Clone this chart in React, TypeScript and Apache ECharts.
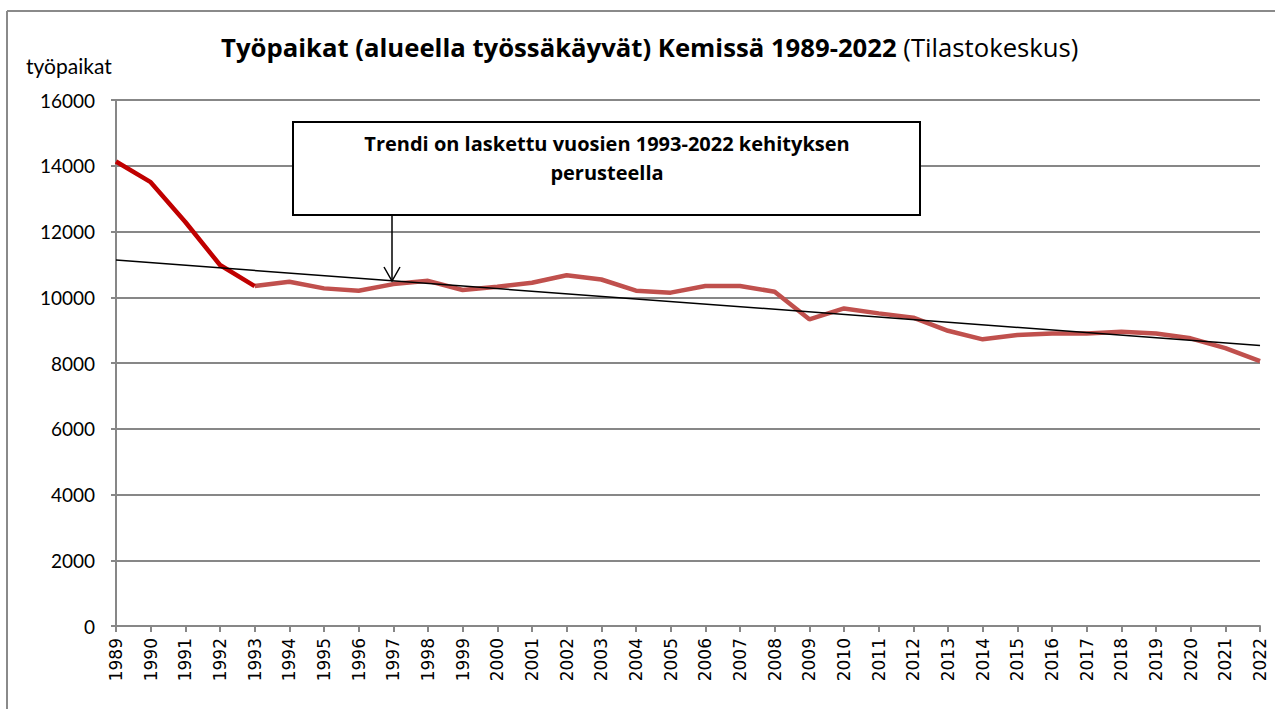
import React, { useEffect, useRef } from "react";
import * as echarts from "echarts";

const years: string[] = [
  "1989", "1990", "1991", "1992", "1993", "1994", "1995", "1996", "1997", "1998",
  "1999", "2000", "2001", "2002", "2003", "2004", "2005", "2006", "2007", "2008",
  "2009", "2010", "2011", "2012", "2013", "2014", "2015", "2016", "2017", "2018",
  "2019", "2020", "2021", "2022",
];

// 1989–1993 (dark red segment)
const earlyValues: number[] = [14130, 13500, 12290, 10980, 10340];

// 1993–2022 (lighter red segment)
const laterValues: number[] = [
  10340, 10470, 10270, 10200, 10400, 10500, 10220, 10320, 10440, 10670,
  10540, 10200, 10140, 10340, 10340, 10170, 9330, 9660, 9510, 9380,
  8980, 8720, 8850, 8900, 8900, 8950, 8900, 8750, 8450, 8060,
];

// trend line end values (1989 and 2022)
const trendEnds: number[] = [11130, 8530];

const yTicks = { min: 0, max: 16000, interval: 2000 };

const titleBold = "Työpaikat (alueella työssäkäyvät) Kemissä 1989-2022";
const titleNormal = " (Tilastokeskus)";
const yName = "työpaikat";
const noteText = "Trendi on laskettu vuosien 1993-2022 kehityksen\nperusteella";

export default function App() {
  const ref = useRef<HTMLDivElement>(null);

  useEffect(() => {
    if (!ref.current) return;
    const chart = echarts.init(ref.current, undefined, { renderer: "svg" });

    const earlyData = years.map((_, i) => (i < earlyValues.length ? earlyValues[i] : null));
    const offset = years.length - laterValues.length;
    const laterData = years.map((_, i) => (i >= offset ? laterValues[i - offset] : null));
    const trendData = years.map((_, i) =>
      i === 0 ? trendEnds[0] : i === years.length - 1 ? trendEnds[1] : null
    );

    const gray = "#878787";

    chart.setOption({
      animation: false,
      backgroundColor: "#ffffff",
      title: {
        text: "{b|" + titleBold + "}{n|" + titleNormal + "}",
        left: 216,
        top: 29,
        textStyle: {
          rich: {
            b: { fontFamily: "Open Sans", fontWeight: "bold", fontSize: 25.7, color: "#000" },
            n: { fontFamily: "Open Sans", fontWeight: "normal", fontSize: 25.7, color: "#000" },
          },
        },
      },
      grid: { left: 116, right: 15, top: 100, bottom: 83, containLabel: false },
      xAxis: {
        type: "category",
        data: years,
        boundaryGap: false,
        axisLine: { show: true, lineStyle: { color: gray, width: 2 } },
        axisTick: { show: true, length: 6, interval: 0, lineStyle: { color: gray, width: 2 } },
        axisLabel: {
          interval: 0,
          rotate: 90,
          margin: 12,
          fontFamily: "DejaVu Sans",
          fontSize: 17,
          color: "#000",
        },
        splitLine: { show: false },
      },
      yAxis: {
        type: "value",
        min: yTicks.min,
        max: yTicks.max,
        interval: yTicks.interval,
        axisLine: { show: true, lineStyle: { color: gray, width: 2 } },
        axisTick: { show: true, length: 5, lineStyle: { color: gray, width: 2 } },
        axisLabel: {
          margin: 21,
          fontFamily: "Lato",
          fontSize: 19,
          color: "#000",
          formatter: (v: number) => String(v),
        },
        splitLine: { show: true, lineStyle: { color: gray, width: 2 } },
      },
      series: [
        {
          type: "line",
          data: laterData,
          showSymbol: false,
          symbol: "none",
          lineStyle: { color: "#C0504D", width: 4.5 },
          z: 2,
        },
        {
          type: "line",
          data: earlyData,
          showSymbol: false,
          symbol: "none",
          lineStyle: { color: "#C00000", width: 4.5 },
          z: 3,
        },
        {
          type: "line",
          data: trendData,
          connectNulls: true,
          showSymbol: false,
          symbol: "none",
          lineStyle: { color: "#000000", width: 1.5 },
          z: 4,
        },
      ],
      graphic: [
        {
          type: "line",
          shape: { x1: 7, y1: 11, x2: 1275, y2: 11 },
          style: { stroke: "#8a8a8a", lineWidth: 2 },
        },
        {
          type: "line",
          shape: { x1: 7, y1: 11, x2: 7, y2: 709 },
          style: { stroke: "#8a8a8a", lineWidth: 2 },
        },
        {
          type: "text",
          left: 26,
          top: 55,
          style: { text: yName, fontFamily: "Lato", fontSize: 21, fill: "#000" },
        },
        {
          type: "rect",
          shape: { x: 293, y: 122, width: 627, height: 93 },
          style: { fill: "#ffffff", stroke: "#000", lineWidth: 2 },
          z: 10,
        },
        {
          type: "text",
          x: 607,
          y: 129,
          z: 11,
          style: {
            text: noteText,
            align: "center",
            verticalAlign: "top",
            fontFamily: "Open Sans",
            fontWeight: "bold",
            fontSize: 20,
            lineHeight: 29,
            fill: "#000",
          },
        },
        {
          type: "line",
          shape: { x1: 392, y1: 215, x2: 392, y2: 280 },
          style: { stroke: "#000", lineWidth: 1.5 },
          z: 10,
        },
        {
          type: "polyline",
          shape: { points: [[384, 267], [392, 281], [400, 267]] },
          style: { stroke: "#000", lineWidth: 1.5, fill: "none" },
          z: 10,
        },
      ],
    });

    return () => chart.dispose();
  }, []);

  return (
    <div
      ref={ref}
      style={{ position: "fixed", left: 0, top: 0, width: 1275, height: 709, background: "#fff" }}
    />
  );
}
